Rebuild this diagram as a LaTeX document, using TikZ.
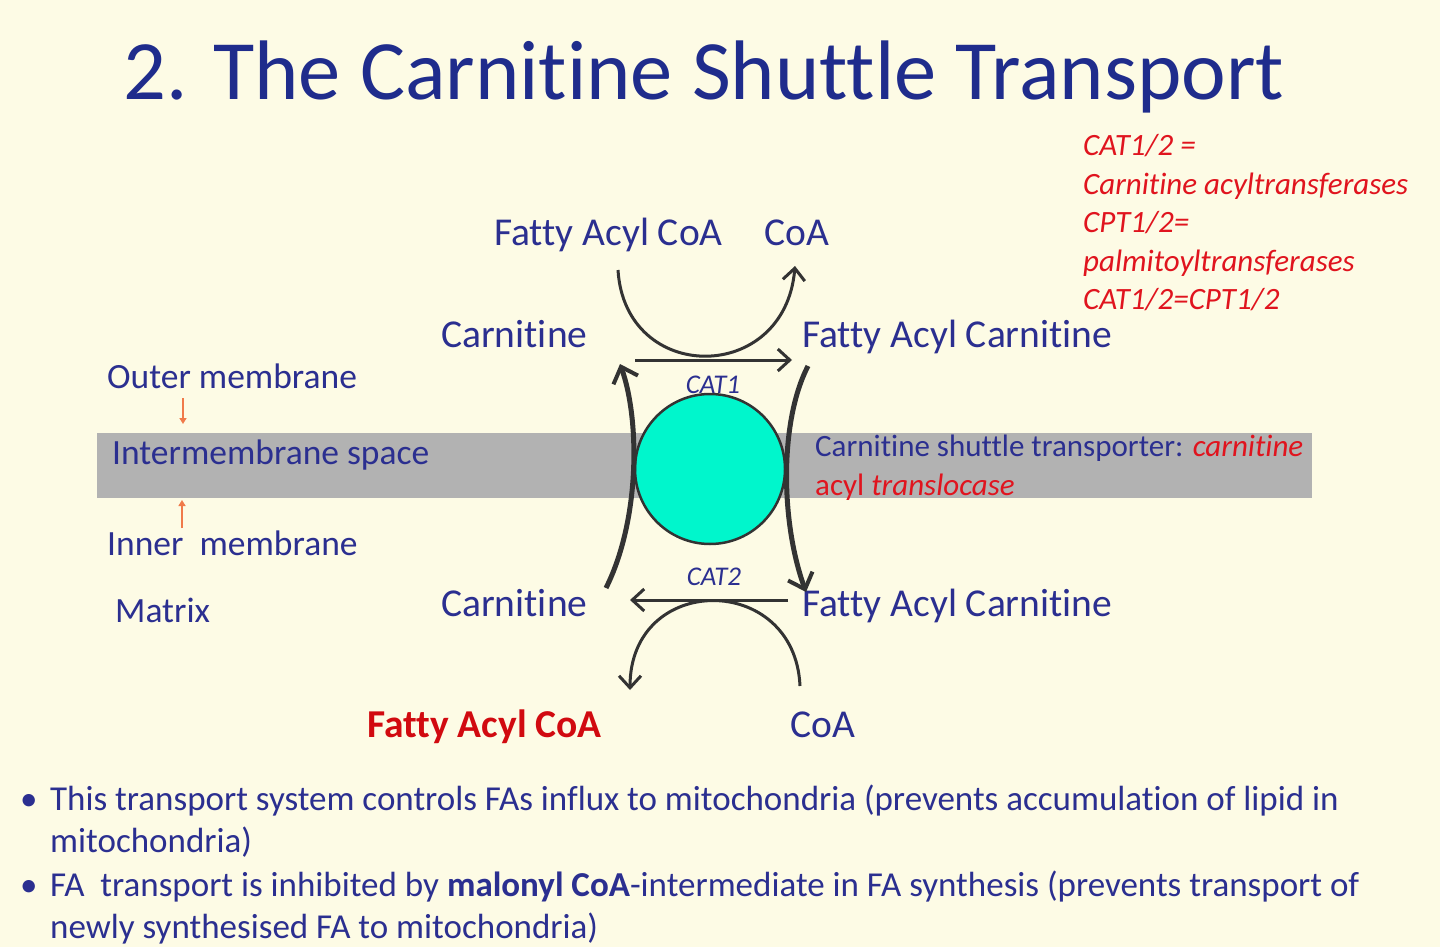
\documentclass[tikz,border=0pt]{standalone}
\usepackage{fontspec}
\setmainfont{Carlito}[Ligatures=NoCommon]
\usetikzlibrary{arrows.meta}
\definecolor{bgc}{HTML}{FDFBE5}
\definecolor{titleblue}{HTML}{1F2C8C}
\definecolor{lblue}{HTML}{2B2F90}
\definecolor{lred}{HTML}{E0141E}
\definecolor{dred}{HTML}{D10A10}
\definecolor{band}{HTML}{B2B2B2}
\definecolor{teal}{HTML}{00F6CC}
\definecolor{arr}{HTML}{333333}
\definecolor{orng}{HTML}{F07A4A}
\tikzset{
  lbl/.style={anchor=base west, inner sep=0pt, text=lblue, font=\fontsize{39.5}{39.5}\selectfont},
  side/.style={anchor=base west, inner sep=0pt, text=lblue, font=\fontsize{35.5}{35.5}\selectfont},
  redit/.style={anchor=base west, inner sep=0pt, text=lred, font=\fontsize{31}{31}\selectfont\itshape},
  catlbl/.style={anchor=base, inner sep=0pt, text=lblue, font=\fontsize{27}{27}\selectfont\itshape},
  bul/.style={anchor=base west, inner sep=0pt, text=lblue, font=\fontsize{35}{35}\selectfont},
  thin arrow/.style={draw=arr, line width=3pt, -{Straight Barb[length=12pt,width=22pt,line width=3pt]}},
  thick arrow/.style={draw=arr, line width=5pt, -{Straight Barb[length=14pt,width=26pt,line width=4pt]}},
  small arrow/.style={draw=orng, line width=2pt, -{Triangle[length=6pt,width=7pt]}}
}
\begin{document}
\begin{tikzpicture}[x=1pt,y=-1pt]
\fill[bgc] (0,0) rectangle (1440,947);
\useasboundingbox (0,0) rectangle (1440,947);
% title
\node[anchor=base, inner sep=0pt, text=titleblue, font=\fontsize{84.5}{84.5}\selectfont] (title) at (704,100) {2. The Carnitine Shuttle Transport};
% red definitions
\node[redit] (d1) at (1083,155) {CAT1/2 =};
\node[redit] (d2) at (1083,194) {Carnitine acyltransferases};
\node[redit] (d3) at (1083,232) {CPT1/2=};
\node[redit] (d4) at (1083,271) {palmitoyltransferases};
\node[redit] (d5) at (1083,309) {CAT1/2=CPT1/2};
% membrane band
\fill[band] (97,433) rectangle (1312,498);
% circle transporter
\node[circle, draw=arr, line width=2.5pt, fill=teal, minimum size=150pt, inner sep=0pt] (trans) at (710,469) {};
% labels
\node[lbl] (facoaTop) at (494,245) {Fatty Acyl CoA};
\node[lbl] (coaTop) at (764,245) {CoA};
\node[lbl] (carnTop) at (441,347) {Carnitine};
\node[lbl] (facTop) at (802,347) {Fatty Acyl Carnitine};
\node[lbl] (carnBot) at (441,616) {Carnitine};
\node[lbl] (facBot) at (802,616) {Fatty Acyl Carnitine};
\node[anchor=base west, inner sep=0pt, text=dred, font=\fontsize{39.5}{39.5}\selectfont\bfseries] (facoaBot) at (367,737) {Fatty Acyl CoA};
\node[lbl] (coaBot) at (790,737) {CoA};
\node[catlbl] (cat1) at (713,393) {CAT1};
\node[catlbl] (cat2) at (714,585) {CAT2};
% side labels
\node[side] (outer) at (107,388) {Outer membrane};
\node[side] (inter) at (112,464) {Intermembrane space};
\node[side] (inner) at (107,555) {Inner\ \ membrane};
\node[side] (matrix) at (115,622) {Matrix};
\coordinate (o1) at (183,398); \coordinate (o2) at (183,424);
\coordinate (i1) at (182,528); \coordinate (i2) at (182,500);
\draw[small arrow] (o1) -- (o2);
\draw[small arrow] (i1) -- (i2);
% transporter label
\node[anchor=base west, inner sep=0pt, font=\fontsize{31}{31}\selectfont] (tlabel) at (815,456) {\textcolor{lblue}{Carnitine shuttle transporter:} \textcolor{lred}{\itshape carnitine}};
\node[anchor=base west, inner sep=0pt, font=\fontsize{31}{31}\selectfont, text=lred] (tlabel2) at (815,495) {acyl \itshape translocase};
% arrows
\coordinate (a1s) at (618,270); \coordinate (a1e) at (795,266);
\draw[thin arrow] (a1s) .. controls (625,385) and (785,385) .. (a1e);
\coordinate (h1s) at (635,360); \coordinate (h1e) at (792,360);
\draw[thin arrow] (h1s) -- (h1e);
\coordinate (l1s) at (606,588); \coordinate (l1e) at (620,364);
\draw[thick arrow] (l1s) .. controls (640,520) and (640,420) .. (l1e);
\coordinate (r1s) at (808,366); \coordinate (r1e) at (806,592);
\draw[thick arrow] (r1s) .. controls (780,420) and (780,520) .. (r1e);
\coordinate (h2s) at (788,600); \coordinate (h2e) at (630,600);
\draw[thin arrow] (h2s) -- (h2e);
\coordinate (a2s) at (800,686); \coordinate (a2e) at (630,690);
\draw[thin arrow] (a2s) .. controls (795,572) and (630,572) .. (a2e);
% bullets
\node[bul] (b1) at (20,810) {•};
\node[bul] (t1) at (50,810) {This transport system controls FAs influx to mitochondria (prevents accumulation of lipid in};
\node[bul] (t1b) at (50,852) {mitochondria)};
\node[bul] (b2) at (20,896) {•};
\node[bul] (t2) at (50,896) {FA\ \ transport is inhibited by \textbf{malonyl CoA}-intermediate in FA synthesis (prevents transport of};
\node[bul] (t2b) at (50,938) {newly synthesised FA to mitochondria)};
\end{tikzpicture}
\end{document}
